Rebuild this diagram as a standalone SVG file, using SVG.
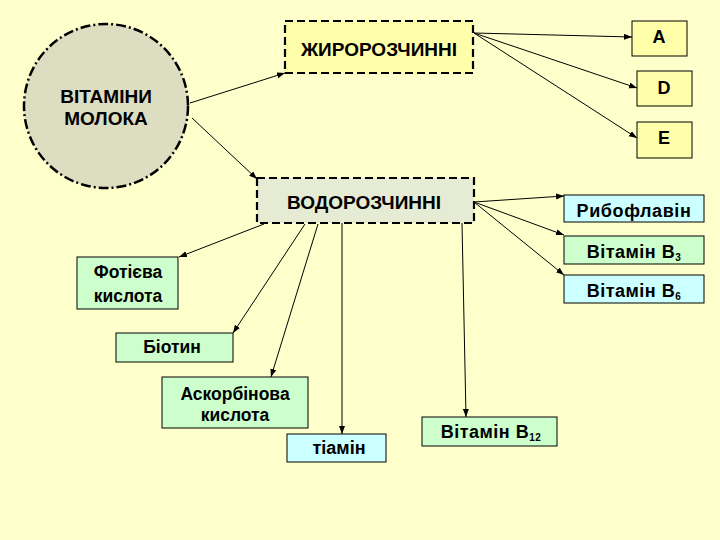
<svg xmlns="http://www.w3.org/2000/svg" width="720" height="540" viewBox="0 0 720 540">
<defs>
<marker id="ah" markerUnits="userSpaceOnUse" markerWidth="9" markerHeight="7" refX="8" refY="3" orient="auto">
<path d="M0,0 L8,3 L0,6 z" fill="#000"/>
</marker>
</defs>
<style>
text{font-family:"Liberation Sans",Arial,sans-serif;font-weight:bold;fill:#000;text-anchor:middle}
.dash{stroke:#000;stroke-width:2.2;stroke-dasharray:8,4}
.box{stroke:#000;stroke-width:1}
.green{fill:#CCFFCC}
.cyan{fill:#CCFFFF}
.yel{fill:#FFFFAA}
.c line{stroke:#000;stroke-width:1;marker-end:url(#ah)}
.sub{font-size:10px}
</style>
<rect width="720" height="540" fill="#FFFFCC"/>
<g id="connectors" class="c">
<line x1="190" y1="103" x2="285" y2="73"/>
<line x1="192" y1="118" x2="257" y2="179"/>
<line x1="474" y1="33" x2="632" y2="37"/>
<line x1="474" y1="33" x2="637" y2="88"/>
<line x1="474" y1="33" x2="637" y2="138"/>
<line x1="474" y1="202" x2="564" y2="196"/>
<line x1="474" y1="202" x2="564" y2="235"/>
<line x1="474" y1="202" x2="564" y2="275"/>
<line x1="264" y1="224" x2="179" y2="257"/>
<line x1="305" y1="224" x2="233" y2="333"/>
<line x1="318" y1="224" x2="271" y2="377"/>
<line x1="342" y1="223" x2="342" y2="434"/>
<line x1="462" y1="223" x2="466" y2="417"/>
</g>
<g id="vitamins">
<circle cx="106" cy="106" r="82" fill="#DDDDC2" stroke="#000" stroke-width="2.5" stroke-dasharray="10,3,2,3"/>
<text x="106" y="103" font-size="19">ВІТАМІНИ</text>
<text x="106" y="125" font-size="19">МОЛОКА</text>
</g>
<g id="fat">
<rect x="285" y="21" width="188" height="52" class="yel dash"/>
<text x="379" y="56" font-size="19">ЖИРОРОЗЧИННІ</text>
</g>
<g id="a">
<rect x="632" y="21" width="55" height="35" class="yel box"/>
<text x="659" y="43" font-size="18">A</text>
</g>
<g id="d">
<rect x="637" y="71" width="55" height="35" class="yel box"/>
<text x="664" y="94" font-size="18">D</text>
</g>
<g id="e">
<rect x="637" y="122" width="55" height="36" class="yel box"/>
<text x="664" y="144" font-size="18">E</text>
</g>
<g id="water">
<rect x="257" y="178" width="217" height="45" fill="#E6EBD3" class="dash"/>
<text x="364" y="209" font-size="19">ВОДОРОЗЧИННІ</text>
</g>
<g id="riboflavin">
<rect x="564" y="195" width="140" height="27" class="cyan box"/>
<text x="634" y="217" font-size="18" letter-spacing="0.6">Рибофлавін</text>
</g>
<g id="b3">
<rect x="564" y="236" width="140" height="28" class="green box"/>
<text x="634" y="258" font-size="18" letter-spacing="0.5">Вітамін В<tspan class="sub" dy="3">3</tspan></text>
</g>
<g id="b6">
<rect x="564" y="275" width="140" height="28" class="cyan box"/>
<text x="634" y="297" font-size="18" letter-spacing="0.5">Вітамін В<tspan class="sub" dy="3">6</tspan></text>
</g>
<g id="folic">
<rect x="77" y="257" width="101" height="52" class="green box"/>
<text x="128" y="278" font-size="17.5">Фотієва</text>
<text x="128" y="302" font-size="17.5">кислота</text>
</g>
<g id="biotin">
<rect x="116" y="333" width="117" height="29" class="green box"/>
<text x="172" y="353" font-size="17.5">Біотин</text>
</g>
<g id="ascorbic">
<rect x="162" y="377" width="146" height="51" class="green box"/>
<text x="235" y="400" font-size="17.5">Аскорбінова</text>
<text x="235" y="421" font-size="17.5">кислота</text>
</g>
<g id="thiamine">
<rect x="287" y="434" width="99" height="28" class="cyan box"/>
<text x="339" y="454" font-size="18" font-weight="normal">тіамін</text>
</g>
<g id="b12">
<rect x="422" y="417" width="135" height="29" class="green box"/>
<text x="491" y="438" font-size="18" letter-spacing="0.5">Вітамін В<tspan class="sub" dy="3">12</tspan></text>
</g>
</svg>
